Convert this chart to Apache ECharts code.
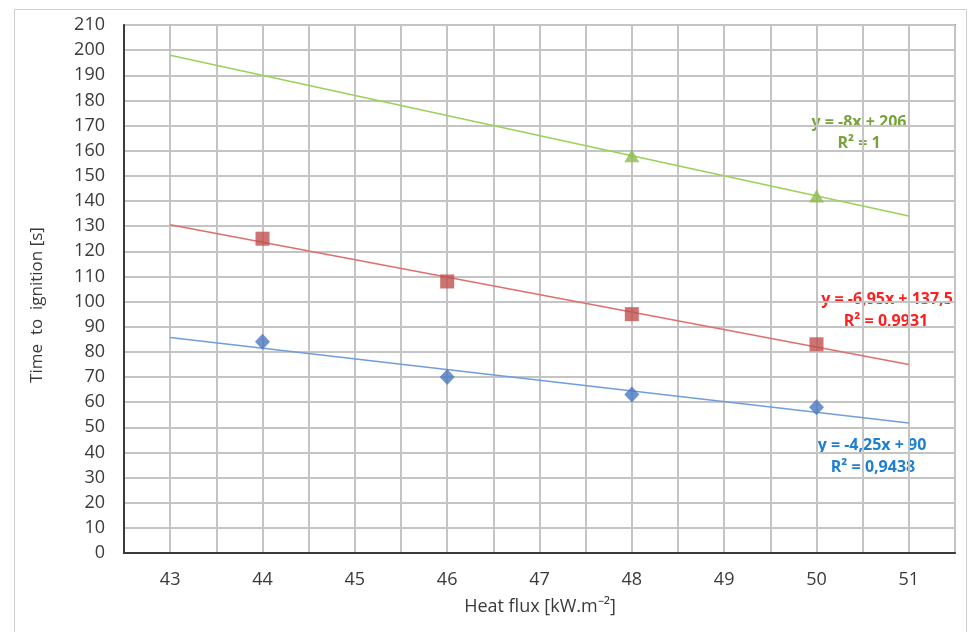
<!DOCTYPE html>
<html>
<head>
<meta charset="utf-8">
<script src="https://cdn.jsdelivr.net/npm/echarts@6/dist/echarts.min.js"></script>
<style>
  html, body { margin: 0; padding: 0; background: #ffffff; }
  #chart { width: 969px; height: 632px; }
</style>
</head>
<body>
<div id="chart"></div>
<script>
// Heat flux levels (kW/m2) where measurements exist
const blueX = [44, 46, 48, 50];
const blueY = [84, 70, 63, 58];
const redX = [44, 46, 48, 50];
const redY = [125, 108, 95, 83];
const greenX = [48, 50];
const greenY = [158, 142];

// Linear fits as reported (x counted as category index: 43 -> 1 ... 51 -> 9)
const trendSlopes = [-4.25, -6.95, -8];
const trendIntercepts = [90, 137.5, 206];
const trendFrom = 43;
const trendTo = 51;

const xTicks = [43, 44, 45, 46, 47, 48, 49, 50, 51];
const yTicks = [0, 10, 20, 30, 40, 50, 60, 70, 80, 90, 100, 110, 120, 130, 140, 150, 160, 170, 180, 190, 200, 210];

const FONT = '"Open Sans", "Liberation Sans", sans-serif';

function pairs(xs, ys) { return xs.map((x, i) => [x, ys[i]]); }
function trend(k) {
  const f = x => trendSlopes[k] * (x - 42) + trendIntercepts[k];
  return [[trendFrom, f(trendFrom)], [trendTo, f(trendTo)]];
}

const chart = echarts.init(document.getElementById('chart'), null, { renderer: 'canvas' });

chart.setOption({
  animation: false,
  backgroundColor: '#ffffff',
  grid: {
    left: 124, top: 25, width: 831, height: 528,
    show: true, borderColor: '#3f3f3f', borderWidth: 1.5, backgroundColor: 'transparent'
  },
  xAxis: {
    type: 'value', min: 42.5, max: 51.5, interval: 0.5,
    axisLine: { show: true, lineStyle: { color: '#3a3a3a', width: 2 } },
    axisTick: { show: false },
    splitLine: { show: true, lineStyle: { color: '#c4c4c4', width: 2 } },
    axisLabel: {
      margin: 18, fontSize: 18, color: '#3a3a3a', fontFamily: FONT,
      formatter: v => (xTicks.indexOf(v) >= 0 ? String(v) : ''),
      showMinLabel: false, showMaxLabel: false
    }
  },
  yAxis: {
    type: 'value', min: yTicks[0], max: yTicks[yTicks.length - 1], interval: 10,
    axisLine: { show: true, lineStyle: { color: '#3a3a3a', width: 2 } },
    axisTick: { show: false },
    splitLine: { show: true, lineStyle: { color: '#c4c4c4', width: 2 } },
    axisLabel: { margin: 19, fontSize: 18, color: '#3a3a3a', fontFamily: FONT }
  },
  series: [
    { type: 'line', data: trend(0), symbol: 'none', silent: true, z: 2,
      lineStyle: { color: '#6f9edb', width: 1.5 } },
    { type: 'line', data: trend(1), symbol: 'none', silent: true, z: 2,
      lineStyle: { color: '#df6f6c', width: 1.5 } },
    { type: 'line', data: trend(2), symbol: 'none', silent: true, z: 2,
      lineStyle: { color: '#9ad159', width: 1.5 } },
    { type: 'scatter', data: pairs(blueX, blueY), symbol: 'diamond', symbolSize: [15, 16], z: 3,
      itemStyle: { color: '#4a78bf' } },
    { type: 'scatter', data: pairs(redX, redY), symbol: 'rect', symbolSize: 14, z: 3,
      itemStyle: { color: '#c0504d' } },
    { type: 'scatter', data: pairs(greenX, greenY), symbol: 'triangle', symbolSize: [15, 13], z: 3,
      itemStyle: { color: '#8fbc4f' } }
  ],
  graphic: [
    { type: 'rect', left: 12, top: 7, silent: true, z: -1,
      shape: { width: 952, height: 640 },
      style: { fill: 'none', stroke: '#cfcfcf', lineWidth: 1 } },
    { type: 'text', x: 37, y: 305, rotation: Math.PI / 2, silent: true,
      style: { text: 'Time  to  ignition [s]', font: '17px ' + FONT, fill: '#3a3a3a',
        textAlign: 'center', textVerticalAlign: 'middle' } },
    { type: 'text', x: 540, y: 607, silent: true,
      style: { text: 'Heat flux [kW.m⁻²]', font: '18px ' + FONT, fill: '#3a3a3a',
        textAlign: 'center', textVerticalAlign: 'middle' } },
    { type: 'text', x: 859, y: 122, silent: true,
      style: { text: 'y = -8x + 206', font: 'bold 16px ' + FONT, fill: '#77a33a',
        textAlign: 'center', textVerticalAlign: 'middle' } },
    { type: 'text', x: 859, y: 143, silent: true,
      style: { text: 'R² = 1', font: 'bold 16px ' + FONT, fill: '#77a33a',
        textAlign: 'center', textVerticalAlign: 'middle' } },
    { type: 'text', x: 887, y: 299, silent: true,
      style: { text: 'y = -6,95x + 137,5', font: 'bold 16px ' + FONT, fill: '#ff1f1f',
        textAlign: 'center', textVerticalAlign: 'middle' } },
    { type: 'text', x: 886, y: 321, silent: true,
      style: { text: 'R² = 0,9931', font: 'bold 16px ' + FONT, fill: '#ff1f1f',
        textAlign: 'center', textVerticalAlign: 'middle' } },
    { type: 'text', x: 872, y: 445, silent: true,
      style: { text: 'y = -4,25x + 90', font: 'bold 16px ' + FONT, fill: '#1f7fd0',
        textAlign: 'center', textVerticalAlign: 'middle' } },
    { type: 'text', x: 873, y: 467, silent: true,
      style: { text: 'R² = 0,9438', font: 'bold 16px ' + FONT, fill: '#1f7fd0',
        textAlign: 'center', textVerticalAlign: 'middle' } }
  ]
});
</script>
</body>
</html>
